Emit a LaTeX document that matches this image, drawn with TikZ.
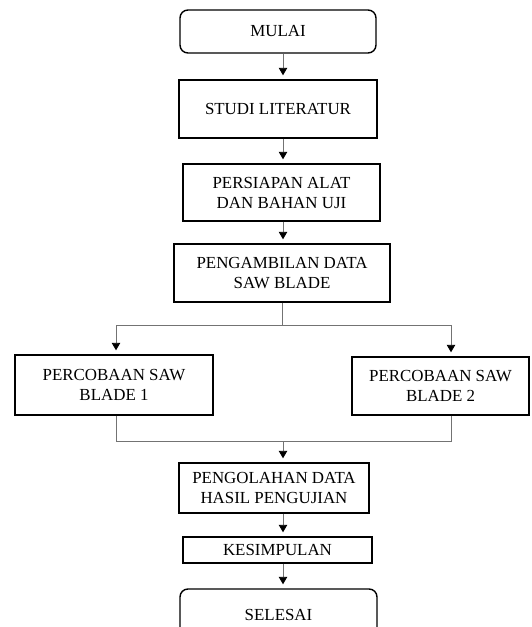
\documentclass[tikz,border=0pt]{standalone}
\usepackage{fontspec}
\setmainfont{Liberation Serif}
\usetikzlibrary{arrows.meta}
\begin{document}
\begin{tikzpicture}[x=1pt,y=-1pt,
  box/.style={draw=black,line width=1.4pt,align=center,inner sep=0pt,
    font=\fontsize{16.9}{20}\selectfont},
  term/.style={box,rounded corners=8pt},
  conn/.style={draw=black!55,line width=0.9pt},
  arr/.style={conn,-{Triangle[length=7.5pt,width=8.5pt,color=black]},shorten >=4pt}]
\useasboundingbox (0,0) rectangle (531,627);
\clip (0,0) rectangle (531,627);
\node[term,minimum width=196pt,minimum height=43pt] (mulai) at (278,31.5) {MULAI};
\node[box,minimum width=198pt,minimum height=58pt] (studi) at (278,109) {STUDI LITERATUR};
\node[box,minimum width=197pt,minimum height=57pt] (persiapan) at (281.5,192.5) {PERSIAPAN ALAT\\DAN BAHAN UJI};
\node[box,minimum width=216pt,minimum height=58pt] (ambil) at (282,273) {PENGAMBILAN DATA\\SAW BLADE};
\node[box,minimum width=198pt,minimum height=60pt] (b1) at (114,385) {PERCOBAAN SAW\\BLADE 1};
\node[box,minimum width=177pt,minimum height=58pt] (b2) at (440.5,386) {PERCOBAAN SAW\\BLADE 2};
\node[box,minimum width=190pt,minimum height=50pt] (olah) at (274,488) {PENGOLAHAN DATA\\HASIL PENGUJIAN};
\node[box,minimum width=189pt,minimum height=26pt] (simpul) at (277.5,550) {KESIMPULAN};
\node[term,minimum width=197pt,minimum height=52pt] (selesai) at (278.5,615) {};
\node[font=\fontsize{16.9}{20}\selectfont,anchor=base] (selesaitxt) at (278.5,620) {SELESAI};
\coordinate (ax) at (283,0);
\coordinate (split) at (282,325.5);
\coordinate (join) at (283,441);
\coordinate (lx) at (116,0);
\coordinate (rx) at (451,0);
\draw[arr] (mulai.south -| ax) -- (studi.north -| ax);
\draw[arr] (studi.south -| ax) -- (persiapan.north -| ax);
\draw[arr] (persiapan.south -| ax) -- (ambil.north -| ax);
\draw[conn] (ambil.south -| split) -- (split);
\draw[arr] (split) -| (b1.north -| lx);
\draw[arr] (split) -| (b2.north -| rx);
\draw[conn] (b1.south -| lx) |- (join);
\draw[conn] (b2.south -| rx) |- (join);
\draw[arr] (join) -- (olah.north -| join);
\draw[arr] (olah.south -| ax) -- (simpul.north -| ax);
\draw[arr] (simpul.south -| ax) -- (selesai.north -| ax);
\end{tikzpicture}
\end{document}
